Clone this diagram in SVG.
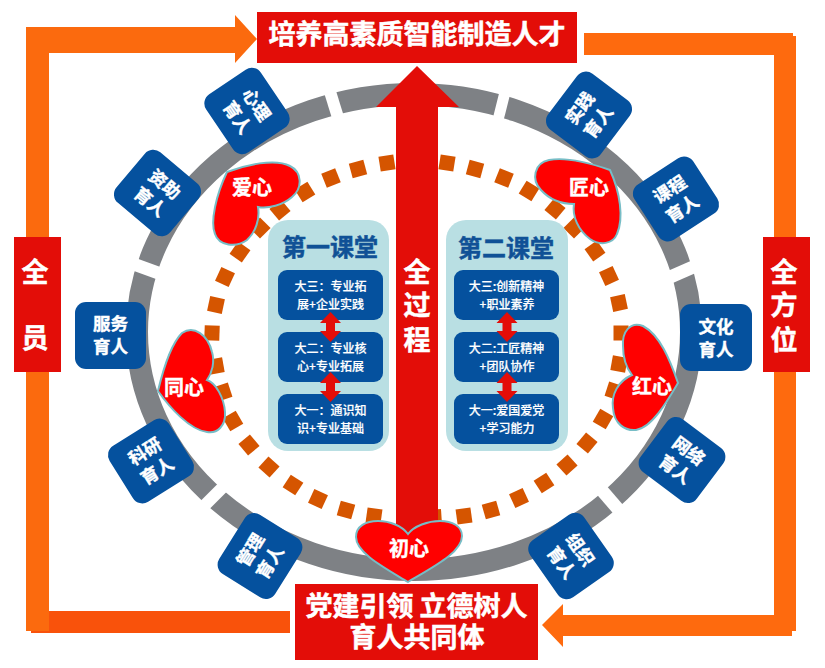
<svg xmlns="http://www.w3.org/2000/svg" width="825" height="668" viewBox="0 0 825 668">
<style>
text{font-family:"Noto Sans CJK SC","Noto Sans",sans-serif;fill:#fff;text-anchor:middle}
.red{fill:#E30D08}
.blue{fill:#05519E}
.panel{fill:#B9DFE3}
.heart{fill:#F00;stroke:#77BDC6;stroke-width:2}
.t27{font-size:27px;font-weight:700;stroke:#fff;stroke-width:.5}
.t18{font-size:17.5px;font-weight:700;stroke:#fff;stroke-width:.4}
.t20{font-size:20px;font-weight:700;stroke:#fff;stroke-width:.4}
.t24{font-size:24px;font-weight:700;fill:#105196;stroke:#105196;stroke-width:.5}
.t12{font-size:12px;font-weight:500;stroke:#fff;stroke-width:.2}
.gap{stroke:#fff;fill:none}
.sq{fill:#D55500}
</style>
<defs>
<rect id="sq" class="sq" x="-7.5" y="-7.5" width="15" height="15"/>
<rect id="nb" x="-35" y="-33" width="70" height="66" rx="11"/>
<path id="dbl" d="M0,-15 L10.5,-4 L4.500,-4 L4.500,4 L10.5,4 L0,15 L-10.5,4 L-4.500,4 L-4.500,-4 L-10.5,-4 Z"/>
</defs>

<g id="ring">
<ellipse cx="414" cy="332" rx="277" ry="238" fill="none" stroke="#7E8185" stroke-width="22"/>
<g class="gap">
<line x1="327" y1="82" x2="340" y2="124" stroke-width="12"/>
<line x1="128" y1="262" x2="161" y2="274" stroke-width="13"/>
<line x1="506" y1="88" x2="497" y2="124" stroke-width="11"/>
<line x1="668" y1="278" x2="700" y2="264" stroke-width="13"/>
<line x1="224" y1="486" x2="199" y2="511" stroke-width="12"/>
<line x1="599" y1="487" x2="624" y2="516" stroke-width="13"/>
</g>
</g>

<g id="dots">
<use href="#sq" transform="translate(387,163) rotate(-9)"/>
<use href="#sq" transform="translate(358,169) rotate(-15)"/>
<use href="#sq" transform="translate(331,178) rotate(-22)"/>
<use href="#sq" transform="translate(305,192) rotate(-32)"/>
<use href="#sq" transform="translate(280,210) rotate(-40)"/>
<use href="#sq" transform="translate(260,228) rotate(-45)"/>
<use href="#sq" transform="translate(240,252) rotate(-55)"/>
<use href="#sq" transform="translate(225,277) rotate(-65)"/>
<use href="#sq" transform="translate(216,305) rotate(-78)"/>
<use href="#sq" transform="translate(212,333) rotate(-88)"/>
<use href="#sq" transform="translate(216,366) rotate(80)"/>
<use href="#sq" transform="translate(223,392) rotate(72)"/>
<use href="#sq" transform="translate(233,421) rotate(60)"/>
<use href="#sq" transform="translate(249,445) rotate(50)"/>
<use href="#sq" transform="translate(269,467) rotate(42)"/>
<use href="#sq" transform="translate(293,485) rotate(33)"/>
<use href="#sq" transform="translate(318,499) rotate(25)"/>
<use href="#sq" transform="translate(346,510) rotate(16)"/>
<use href="#sq" transform="translate(374,516) rotate(8)"/>
<use href="#sq" transform="translate(434,517) rotate(-4)"/>
<use href="#sq" transform="translate(464,516) rotate(-8)"/>
<use href="#sq" transform="translate(491,510) rotate(-16)"/>
<use href="#sq" transform="translate(519,498) rotate(-25)"/>
<use href="#sq" transform="translate(544,483) rotate(-33)"/>
<use href="#sq" transform="translate(567,465) rotate(-42)"/>
<use href="#sq" transform="translate(587,443) rotate(-50)"/>
<use href="#sq" transform="translate(603,419) rotate(-60)"/>
<use href="#sq" transform="translate(614,391) rotate(-72)"/>
<use href="#sq" transform="translate(619,364) rotate(-80)"/>
<use href="#sq" transform="translate(621,333) rotate(90)"/>
<use href="#sq" transform="translate(619,303) rotate(78)"/>
<use href="#sq" transform="translate(609,276) rotate(65)"/>
<use href="#sq" transform="translate(595,251) rotate(55)"/>
<use href="#sq" transform="translate(574,228) rotate(45)"/>
<use href="#sq" transform="translate(555,209) rotate(40)"/>
<use href="#sq" transform="translate(529,191) rotate(32)"/>
<use href="#sq" transform="translate(504,178) rotate(22)"/>
<use href="#sq" transform="translate(475,169) rotate(15)"/>
<use href="#sq" transform="translate(447,163) rotate(9)"/>
</g>

<g id="connectors">
<path fill="#F9520B" d="M31,611 H290 V633 H31 Z"/>
<path fill="#FB6A0E" d="M26,27 H235 V15 L257,39 L235,63 V53 H49 V631 H26 Z"/>
<path fill="#FE6A0E" d="M584,33 H793 V36 H796 V631 H792 V636 H563 V647 L542,625 L563,604 V615 H774 V55 H584 Z"/>
<path class="red" d="M417,66 L459,107 H438 V545 H396 V107 H376 Z"/>
</g>

<g id="label-quanguocheng">
<text class="t27" x="417" y="282">全</text>
<text class="t27" x="417" y="315">过</text>
<text class="t27" x="417" y="350">程</text>
</g>

<g id="top-goal"><rect class="red" x="257" y="12" width="320" height="51"/>
<text class="t27" x="417" y="44">培养高素质智能制造人才</text></g>
<g id="bottom-base"><rect class="red" x="295" y="584" width="243" height="76"/>
<text class="t27" x="416.500" y="616">党建引领 立德树人</text>
<text class="t27" x="417" y="647">育人共同体</text></g>
<g id="quanyuan"><rect class="red" x="14" y="237" width="47" height="135"/>
<text class="t27" x="35" y="282">全</text>
<text class="t27" x="35" y="348">员</text></g>
<g id="quanfangwei"><rect class="red" x="763" y="237" width="47" height="135"/>
<text class="t27" x="784" y="282">全</text>
<text class="t27" x="784" y="315">方</text>
<text class="t27" x="784" y="350">位</text></g>

<g id="panel-1">
<rect class="panel" x="268" y="220" width="121" height="231" rx="20"/>
<text class="t24" x="330" y="256">第一课堂</text>
<rect class="blue" x="278" y="270" width="105" height="50" rx="9"/>
<text class="t12" x="330.500" y="291">大三：专业拓</text><text class="t12" x="330.500" y="309">展+企业实践</text>
<rect class="blue" x="278" y="332" width="105" height="50" rx="9"/>
<text class="t12" x="330.500" y="353">大二：专业核</text><text class="t12" x="330.500" y="371">心+专业拓展</text>
<rect class="blue" x="278" y="394" width="105" height="50" rx="9"/>
<text class="t12" x="330.500" y="415">大一：通识知</text><text class="t12" x="330.500" y="433">识+专业基础</text>
<use href="#dbl" class="red" x="330.500" y="327"/>
<use href="#dbl" class="red" x="330.500" y="387"/>
</g>
<g id="panel-2">
<rect class="panel" x="446" y="220" width="122" height="231" rx="20"/>
<text class="t24" x="506" y="257">第二课堂</text>
<rect class="blue" x="454" y="270" width="105" height="50" rx="9"/>
<text class="t12" x="506.500" y="291">大三:创新精神</text><text class="t12" x="507" y="309">+职业素养</text>
<rect class="blue" x="454" y="332" width="105" height="50" rx="9"/>
<text class="t12" x="506.500" y="353">大二:工匠精神</text><text class="t12" x="507" y="371">+团队协作</text>
<rect class="blue" x="454" y="394" width="105" height="50" rx="9"/>
<text class="t12" x="506.500" y="415">大一:爱国爱党</text><text class="t12" x="507" y="433">+学习能力</text>
<use href="#dbl" class="red" x="507" y="327"/>
<use href="#dbl" class="red" x="507" y="387"/>
</g>

<g id="heart-aixin"><path class="heart" d="M227,172 C245,165 275,158 290,166 C302,172 303,188 292,197 C283,205 268,209 258,207 C260,218 256,232 247,240 C236,248 219,246 215,234 C210,222 216,195 227,172 Z"/>
<text class="t20" x="252" y="195">爱心</text></g>
<g id="heart-jiangxin"><path class="heart" d="M610,170 C590,163 565,157 549,160 C534,163 531,180 541,190 C550,200 563,204 574,204 C572,216 578,230 590,239 C600,246 613,244 617,234 C624,218 620,192 610,170 Z"/>
<text class="t20" x="589" y="195">匠心</text></g>
<g id="heart-tongxin"><path class="heart" d="M158,391 C163,370 170,345 182,333 C194,325 208,335 212,352 C215,362 212,373 207,380 C216,383 224,398 225,412 C226,426 217,434 207,432 C190,430 170,408 158,391 Z"/>
<text class="t20" x="184" y="395">同心</text></g>
<g id="heart-hongxin"><path class="heart" d="M678,383 C670,360 660,335 643,326 C630,321 622,332 623,346 C623,360 628,370 632,375 C618,381 611,395 613,408 C614,424 625,431 636,430 C652,428 668,400 678,383 Z"/>
<text class="t20" x="652" y="394">红心</text></g>
<g id="heart-chuxin"><path class="heart" d="M408,582 C385,568 356,553 356,537 C356,526 366,521 378,521 C390,521 402,526 408,534 C414,526 428,521 440,521 C452,521 462,526 462,536 C462,553 431,568 408,582 Z"/>
<text class="t20" x="409" y="556">初心</text></g>

<g id="node-fuwu" transform="translate(110.500,335.500)"><rect class="blue" x="-35.500" y="-33.500" width="71" height="67" rx="11"/>
<text class="t18" y="-6">服务</text><text class="t18" y="17">育人</text></g>
<g id="node-wenhua" transform="translate(716,337.500)"><rect class="blue" x="-36" y="-33.500" width="72" height="67" rx="11"/>
<text class="t18" y="-5">文化</text><text class="t18" y="18">育人</text></g>
<g id="node-xinli" transform="translate(247,111) rotate(56)"><use href="#nb" class="blue"/>
<text class="t18" y="-5">心理</text><text class="t18" y="18">育人</text></g>
<g id="node-zizhu" transform="translate(157.500,193) rotate(40)"><use href="#nb" class="blue"/>
<text class="t18" y="-5">资助</text><text class="t18" y="18">育人</text></g>
<g id="node-shijian" transform="translate(589,115) rotate(-53)"><use href="#nb" class="blue"/>
<text class="t18" y="-5">实践</text><text class="t18" y="18">育人</text></g>
<g id="node-kecheng" transform="translate(676,199) rotate(-33)"><use href="#nb" class="blue"/>
<text class="t18" y="-5">课程</text><text class="t18" y="18">育人</text></g>
<g id="node-keyan" transform="translate(151,461) rotate(-32)"><use href="#nb" class="blue"/>
<text class="t18" y="-5">科研</text><text class="t18" y="18">育人</text></g>
<g id="node-guanli" transform="translate(260,556) rotate(-58)"><use href="#nb" class="blue"/>
<text class="t18" y="-5">管理</text><text class="t18" y="18">育人</text></g>
<g id="node-zuzhi" transform="translate(571,556) rotate(55)"><use href="#nb" class="blue"/>
<text class="t18" y="-5">组织</text><text class="t18" y="18">育人</text></g>
<g id="node-wangluo" transform="translate(682,460) rotate(37)"><use href="#nb" class="blue"/>
<text class="t18" y="-5">网络</text><text class="t18" y="18">育人</text></g>
</svg>
